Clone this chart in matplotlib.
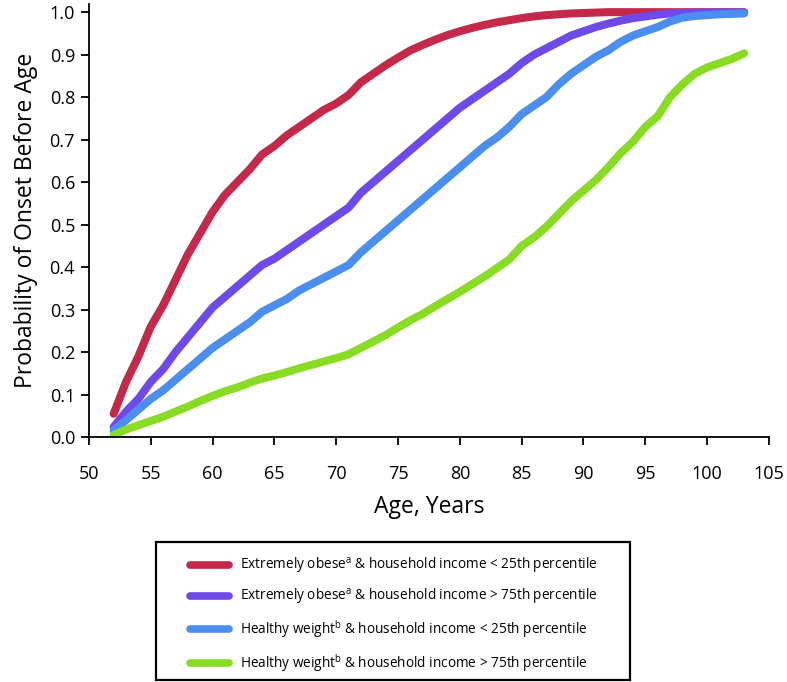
import matplotlib
matplotlib.use("Agg")
import matplotlib.pyplot as plt
from matplotlib.patches import Rectangle

plt.rcParams['font.family'] = ['Open Sans', 'DejaVu Sans']
plt.rcParams['mathtext.fontset'] = 'custom'
plt.rcParams['mathtext.rm'] = 'Open Sans'

ages = list(range(52, 104))

obese_low = [0.055, 0.13, 0.19, 0.26, 0.31, 0.37, 0.43, 0.48, 0.53, 0.57,
             0.60, 0.63, 0.665, 0.685, 0.71, 0.73, 0.75, 0.77, 0.785, 0.805,
             0.835, 0.855, 0.875, 0.893, 0.91, 0.923, 0.935, 0.946, 0.955, 0.963,
             0.97, 0.976, 0.981, 0.986, 0.99, 0.993, 0.995, 0.997, 0.998, 0.999,
             1.0, 1.0, 1.0, 1.0, 1.0, 1.0, 1.0, 1.0, 1.0, 1.0, 1.0, 1.0]
obese_high = [0.024, 0.06, 0.09, 0.13, 0.16, 0.20, 0.235, 0.27, 0.305, 0.33,
              0.355, 0.38, 0.405, 0.42, 0.44, 0.46, 0.48, 0.50, 0.52, 0.54,
              0.575, 0.60, 0.625, 0.65, 0.675, 0.70, 0.725, 0.75, 0.775, 0.795,
              0.815, 0.835, 0.855, 0.88, 0.90, 0.915, 0.93, 0.945, 0.955, 0.965,
              0.973, 0.98, 0.986, 0.99, 0.994, 0.997, 0.998, 0.999, 0.999, 0.999, 0.999, 0.999]
healthy_low = [0.016, 0.04, 0.065, 0.09, 0.11, 0.135, 0.16, 0.185, 0.21, 0.23,
               0.25, 0.27, 0.295, 0.31, 0.325, 0.345, 0.36, 0.375, 0.39, 0.405,
               0.435, 0.46, 0.485, 0.51, 0.535, 0.56, 0.585, 0.61, 0.635, 0.66,
               0.685, 0.705, 0.73, 0.76, 0.78, 0.80, 0.83, 0.855, 0.875, 0.895,
               0.91, 0.93, 0.945, 0.955, 0.965, 0.978, 0.987, 0.991, 0.993, 0.995, 0.996, 0.997]
healthy_high = [0.005, 0.018, 0.028, 0.038, 0.048, 0.06, 0.072, 0.085, 0.097, 0.108,
                0.117, 0.128, 0.138, 0.145, 0.153, 0.162, 0.17, 0.178, 0.186, 0.195,
                0.21, 0.225, 0.24, 0.258, 0.275, 0.29, 0.308, 0.325, 0.342, 0.36,
                0.378, 0.398, 0.418, 0.45, 0.47, 0.495, 0.525, 0.555, 0.58, 0.605,
                0.635, 0.668, 0.695, 0.73, 0.755, 0.80, 0.83, 0.855, 0.87, 0.88, 0.89, 0.903]

labels = [r"Extremely obese$^{\mathrm{a}}$ & household income < 25th percentile",
          r"Extremely obese$^{\mathrm{a}}$ & household income > 75th percentile",
          r"Healthy weight$^{\mathrm{b}}$ & household income < 25th percentile",
          r"Healthy weight$^{\mathrm{b}}$ & household income > 75th percentile"]
colors = ["#C4294A", "#6F4AE9", "#4A8FF0", "#89DC24"]
series = [obese_low, obese_high, healthy_low, healthy_high]

x_ticks = list(range(50, 110, 5))
y_ticks = [i / 10 for i in range(11)]

W, H = 787, 682
fig = plt.figure(figsize=(W / 100, H / 100), dpi=100)
ax = fig.add_axes([0.113, 0.359, 0.864, 0.635])

lines = []
for ys, c, lab in zip(series, colors, labels):
    ln, = ax.plot(ages, ys, color=c, lw=5.8, solid_capstyle='round',
                  solid_joinstyle='round', label=lab)
    lines.append(ln)

ax.set_xlim(50, 105)
ax.set_ylim(0, 1.019)
ax.set_xticks(x_ticks)
ax.set_yticks(y_ticks)
ax.set_yticklabels([f"{v:.1f}" for v in y_ticks])
ax.spines['top'].set_visible(False)
ax.spines['right'].set_visible(False)
for s in ['left', 'bottom']:
    ax.spines[s].set_linewidth(1.3)
ax.tick_params(direction='out', length=6, width=1.3, labelsize=13, pad=4)
ax.tick_params(axis='x', pad=14)
ax.set_xlabel("Age, Years", fontsize=16.5, labelpad=9)
ax.set_ylabel("Probability of Onset Before Age", fontsize=16.5, labelpad=8)

# legend frame
fig.patches.append(Rectangle((156 / W, 1 - 680 / H), (630 - 156) / W, (680 - 542) / H,
                             transform=fig.transFigure, fill=False,
                             edgecolor='black', linewidth=1.6))

leg = fig.legend(handles=lines, loc='upper left',
                 bbox_to_anchor=(190 / W, 1 - 556 / H),
                 bbox_transform=fig.transFigure, fontsize=9.8, frameon=False,
                 handlelength=2.9, handletextpad=0.75, labelspacing=0.83,
                 borderpad=0, borderaxespad=0)
for h in leg.get_lines():
    h.set_linewidth(5.5)
    h.set_solid_capstyle('round')

fig.savefig("out.png", dpi=100)
